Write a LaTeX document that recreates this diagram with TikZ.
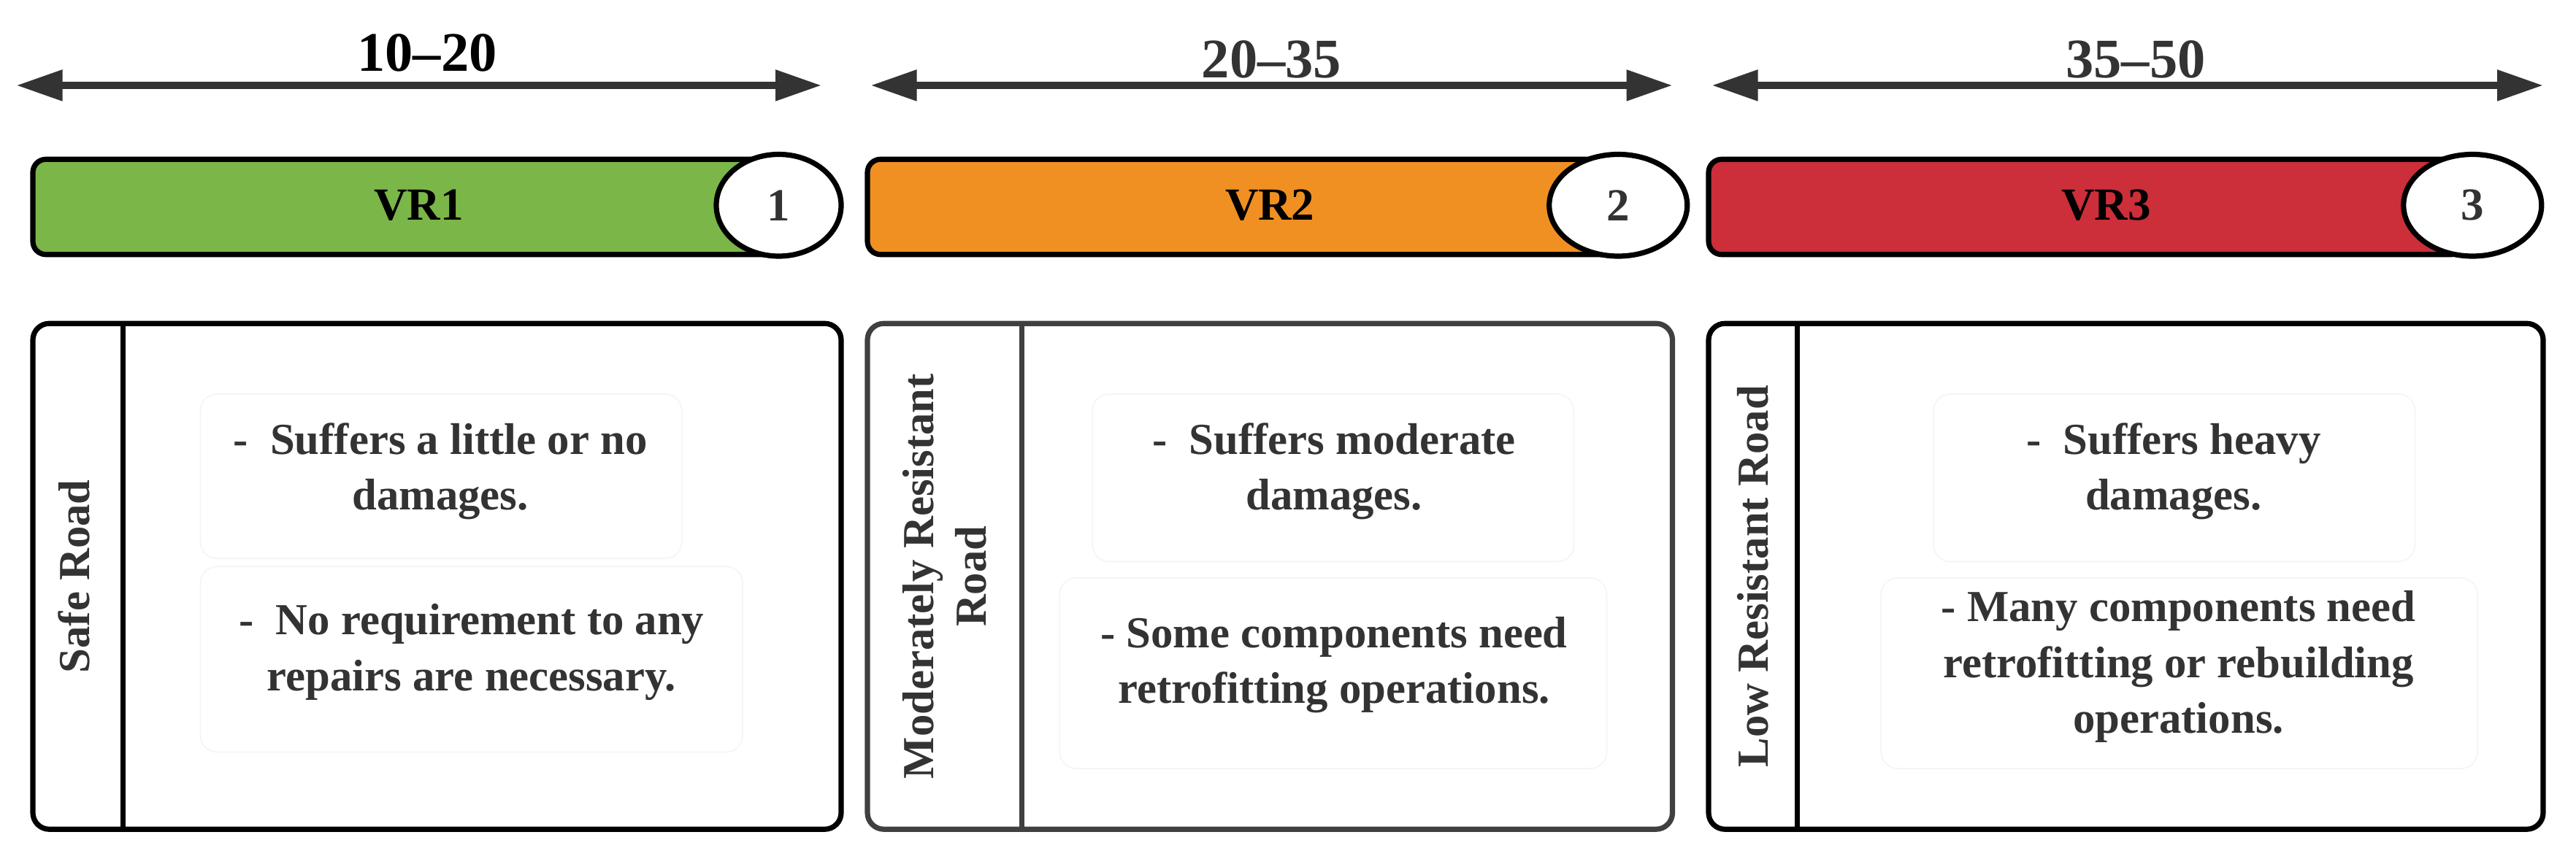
\documentclass[tikz,border=0pt]{standalone}
\usepackage{fontspec}
\setmainfont{Liberation Serif}
\usetikzlibrary{arrows.meta}
\definecolor{vgreen}{HTML}{7AB648}
\definecolor{vorange}{HTML}{F09022}
\definecolor{vred}{HTML}{CC2E3A}
\definecolor{txt}{HTML}{333333}
\begin{document}
\begin{tikzpicture}[x=0.5pt,y=-0.5pt,
  rng/.style={draw=txt,line width=2.2pt,{Triangle[length=14pt,width=9pt]}-{Triangle[length=14pt,width=9pt]}},
  rlab/.style={font=\fontsize{17}{20}\selectfont\bfseries,text=txt},
  bar/.style={draw=black,line width=1.6pt,rounded corners=4pt},
  num/.style={draw=black,fill=white,line width=1.6pt,ellipse,inner sep=0pt},
  box/.style={draw=black,line width=1.6pt,rounded corners=5pt},
  inner/.style={draw=black!4,rounded corners=5pt},
  body/.style={font=\fontsize{13.5}{17}\selectfont\bfseries,text=txt,align=center},
  side/.style={font=\fontsize{13.5}{16}\selectfont\bfseries,text=txt,align=center,rotate=90}]
\useasboundingbox (0,0) rectangle (1568,523);
% range arrows
\coordinate (a1l) at (10,52); \coordinate (a1r) at (500,52);
\coordinate (a2l) at (530,52); \coordinate (a2r) at (1018,52);
\coordinate (a3l) at (1042,52); \coordinate (a3r) at (1548,52);
\draw[rng] (a1l) -- (a1r); \draw[rng] (a2l) -- (a2r); \draw[rng] (a3l) -- (a3r);
\node[rlab,text=black] (t1) at (260,32) {10–20};
\node[rlab] (t2) at (774,36) {20–35};
\node[rlab] (t3) at (1300,36) {35–50};
% bars
\draw[bar,fill=vgreen] (20,97) rectangle (480,155);
\draw[bar,fill=vorange] (528,97) rectangle (985,155);
\draw[bar,fill=vred] (1040,97) rectangle (1500,155);
\node[font=\fontsize{14}{16}\selectfont\bfseries] (v1) at (255,125) {VR1};
\node[font=\fontsize{14}{16}\selectfont\bfseries] (v2) at (773,125) {VR2};
\node[font=\fontsize{14}{16}\selectfont\bfseries] (v3) at (1282,125) {VR3};
\draw[line width=1.6pt,fill=white] (474,125) ellipse (38 and 31);
\draw[line width=1.6pt,fill=white] (985,125) ellipse (42 and 31);
\draw[line width=1.6pt,fill=white] (1505,125) ellipse (42 and 31);
\node[font=\fontsize{14}{16}\selectfont\bfseries,text=txt] (n1) at (474,125) {1};
\node[font=\fontsize{14}{16}\selectfont\bfseries,text=txt] (n2) at (985,125) {2};
\node[font=\fontsize{14}{16}\selectfont\bfseries,text=txt] (n3) at (1505,125) {3};
% boxes
\draw[box] (20,197) rectangle (512,505); \draw[line width=1.6pt] (75,197) -- (75,505);
\draw[box,draw=black!75] (528,197) rectangle (1018,505); \draw[line width=1.6pt,draw=black!75] (622,197) -- (622,505);
\draw[box] (1040,197) rectangle (1548,505); \draw[line width=1.6pt] (1094,197) -- (1094,505);
\node[side] (s1) at (45,351) {Safe Road};
\node[side] (s2) at (575,351) {Moderately Resistant\\Road};
\node[side] (s3) at (1067,351) {Low Resistant Road};
% inner faint boxes
\draw[inner] (122,240) rectangle (415,340);
\draw[inner] (122,345) rectangle (452,458);
\draw[inner] (665,240) rectangle (958,342);
\draw[inner] (645,352) rectangle (978,468);
\draw[inner] (1177,240) rectangle (1470,342);
\draw[inner] (1145,352) rectangle (1508,468);
\node[body] (b11) at (268,287) {-\ \ Suffers a little or no\\damages.};
\node[body] (b12) at (287,397) {-\ \ No requirement to any\\repairs are necessary.};
\node[body] (b21) at (812,287) {-\ \ Suffers moderate\\damages.};
\node[body] (b22) at (812,405) {- Some components need\\retrofitting operations.};
\node[body] (b31) at (1323,287) {-\ \ Suffers heavy\\damages.};
\node[body] (b32) at (1326,406) {- Many components need\\retrofitting or rebuilding\\operations.};
\end{tikzpicture}
\end{document}
